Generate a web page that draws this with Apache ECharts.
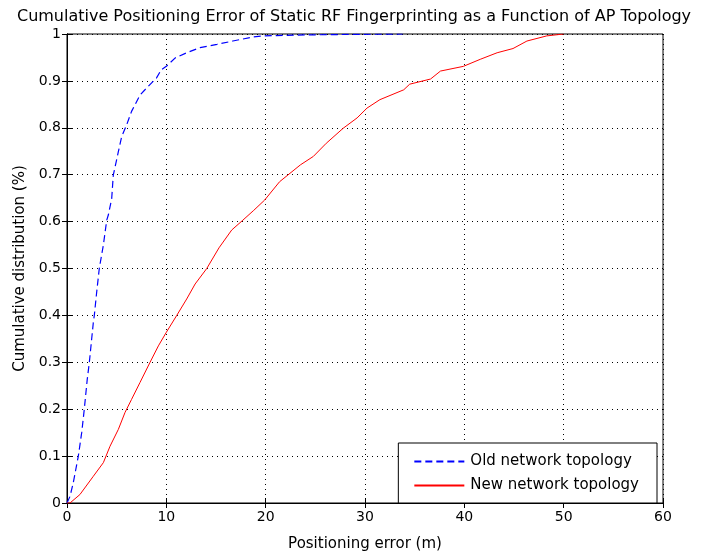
<!DOCTYPE html>
<html><head><meta charset="utf-8">
<script src="https://cdn.jsdelivr.net/npm/echarts@6/dist/echarts.min.js"></script>
<style>html,body{margin:0;padding:0;background:#fff}#c{width:708px;height:558px}</style>
</head><body><div id="c"></div>
<script>
const titleText = 'Cumulative Positioning Error of Static RF Fingerprinting as a Function of AP Topology';
const xName = 'Positioning error (m)';
const yName = 'Cumulative distribution (%)';
const xTicks = [0, 10, 20, 30, 40, 50, 60];
const yTicks = [0, 0.1, 0.2, 0.3, 0.4, 0.5, 0.6, 0.7, 0.8, 0.9, 1];
const seriesNames = ['Old network topology', 'New network topology'];

const oldX = [0, 0.3, 0.63, 1.14, 1.48, 1.74, 2.04, 2.25, 2.65, 2.75, 2.99, 3.25, 3.66, 4.0, 4.16, 4.5, 4.66, 5.17, 5.5, 6.0, 6.5, 7.35, 8.2, 9.0, 9.5, 10.0, 10.9, 12.05, 13.4, 15.1, 16.7, 18.8, 19.9, 24, 28, 33.8];
const oldY = [0, 0.014, 0.043, 0.1, 0.15, 0.2, 0.264, 0.3, 0.385, 0.4, 0.45, 0.5, 0.55, 0.603, 0.614, 0.649, 0.699, 0.749, 0.781, 0.806, 0.835, 0.87, 0.889, 0.906, 0.924, 0.931, 0.949, 0.96, 0.971, 0.978, 0.985, 0.994, 0.996, 0.998, 0.999, 1.0];

const newX = [0, 0.3, 1.3, 2.65, 3.66, 4.33, 5.17, 5.84, 6.5, 7.35, 8.36, 9.2, 10.0, 11.05, 12.05, 12.9, 14.07, 15.3, 16.58, 17.7, 18.8, 19.9, 21.4, 23.5, 24.8, 26.1, 27.8, 29.2, 30.2, 31.5, 33.9, 34.5, 36.6, 37.6, 39.9, 41.6, 43.3, 44.9, 46.3, 48.3, 50.0];
const newY = [0, 0, 0.018, 0.057, 0.086, 0.121, 0.157, 0.193, 0.221, 0.257, 0.3, 0.335, 0.364, 0.4, 0.435, 0.467, 0.5, 0.544, 0.582, 0.603, 0.624, 0.646, 0.685, 0.721, 0.739, 0.767, 0.799, 0.821, 0.842, 0.86, 0.881, 0.893, 0.904, 0.921, 0.931, 0.946, 0.96, 0.969, 0.985, 0.996, 1.0];

const pair = (xs, ys) => xs.map((x, i) => [x, ys[i]]);
const font = '"DejaVu Sans", Verdana, sans-serif';
const chart = echarts.init(document.getElementById('c'), null, {renderer: 'canvas'});
const tickStyle = {show: true, inside: true, length: 5, lineStyle: {color: '#000', width: 1}};
chart.setOption({
  animation: false,
  backgroundColor: '#fff',
  title: {text: titleText, left: 'center', top: 4, textStyle: {fontFamily: font, fontSize: 16, fontWeight: 'normal', color: '#000'}},
  grid: {left: 67, right: 45, top: 34, bottom: 55, show: true, borderColor: '#000', borderWidth: 1, backgroundColor: '#fff'},
  legend: {
    data: seriesNames, orient: 'vertical', right: 51, bottom: 55,
    backgroundColor: '#fff', borderColor: '#000', borderWidth: 1,
    padding: [11, 18, 10, 15], itemGap: 9, itemWidth: 50, itemHeight: 14,
    itemStyle: {opacity: 0},
    textStyle: {fontFamily: font, fontSize: 15, color: '#000', padding: [0, 0, 0, 1]}
  },
  xAxis: [{
    type: 'value', min: xTicks[0], max: xTicks[xTicks.length - 1], interval: 10,
    name: xName, nameLocation: 'middle', nameGap: 34,
    nameTextStyle: {fontFamily: font, fontSize: 15, color: '#000'},
    axisLine: {show: true, lineStyle: {color: '#000'}},
    axisTick: tickStyle,
    axisLabel: {fontFamily: font, fontSize: 14, color: '#000', margin: 7},
    splitLine: {show: true, lineStyle: {color: '#000', type: [1, 4], width: 1}}
  }, {
    type: 'value', position: 'top', min: 0, max: 60, interval: 10,
    axisLine: {show: true, lineStyle: {color: '#000'}}, axisTick: tickStyle,
    axisLabel: {show: false}, splitLine: {show: false}
  }],
  yAxis: [{
    type: 'value', min: 0, max: 1, interval: 0.1,
    name: yName, nameLocation: 'middle', nameGap: 38,
    nameTextStyle: {fontFamily: font, fontSize: 15, color: '#000'},
    axisLine: {show: true, lineStyle: {color: '#000'}},
    axisTick: tickStyle,
    axisLabel: {fontFamily: font, fontSize: 14, color: '#000', margin: 6, formatter: v => String(Math.round(v * 10) / 10)},
    splitLine: {show: true, lineStyle: {color: '#000', type: [1, 4], width: 1}}
  }, {
    type: 'value', position: 'right', min: 0, max: 1, interval: 0.1,
    axisLine: {show: true, lineStyle: {color: '#000'}}, axisTick: tickStyle,
    axisLabel: {show: false}, splitLine: {show: false}
  }],
  series: [{
    name: seriesNames[0], type: 'line', data: pair(oldX, oldY), showSymbol: false, symbol: 'none',
    lineStyle: {color: '#0000ff', width: 1.2, type: [7, 4]}, itemStyle: {color: '#0000ff'}
  }, {
    name: seriesNames[1], type: 'line', data: pair(newX, newY), showSymbol: false, symbol: 'none',
    lineStyle: {color: '#ff0000', width: 1}, itemStyle: {color: '#ff0000'}
  }]
});
</script></body></html>
